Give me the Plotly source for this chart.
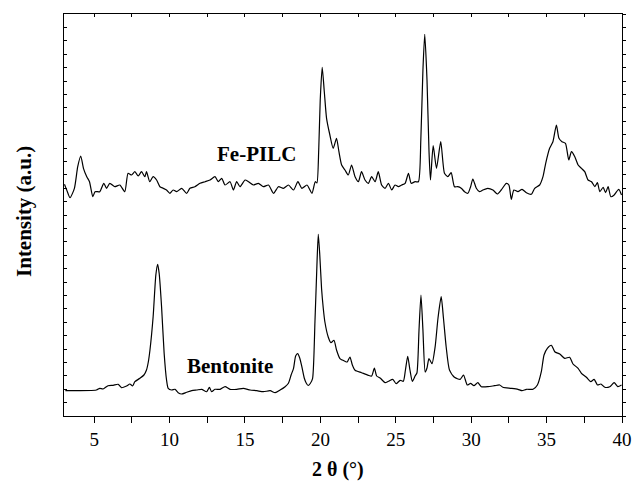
import plotly.graph_objects as go

# ---- Data (2θ in degrees, intensity in a.u.) ----
fe_two_theta = [3.03, 3.18, 3.40, 3.69, 3.91, 4.11, 4.29, 4.51, 4.69, 4.91, 5.06, 5.37, 5.64, 5.82, 6.04, 6.37, 6.70, 7.03,
                7.25, 7.48, 7.70, 7.92, 8.14, 8.36, 8.47, 8.69, 8.91, 9.14, 9.36, 9.58, 9.80, 10.02, 10.24, 10.47, 10.80,
                11.13, 11.35, 11.68, 12.02, 12.35, 12.68, 13.01, 13.23, 13.46, 13.68, 14.01, 14.23, 14.45, 14.67, 15.01,
                15.23, 15.56, 15.89, 16.22, 16.56, 16.89, 17.22, 17.55, 17.88, 18.22, 18.51, 18.77, 19.11, 19.44, 19.66,
                19.77, 19.89, 19.99, 20.12, 20.26, 20.41, 20.63, 20.85, 21.07, 21.23, 21.41, 21.63, 21.85, 22.07, 22.30,
                22.52, 22.73, 22.96, 23.18, 23.40, 23.63, 23.84, 24.06, 24.29, 24.51, 24.73, 24.95, 25.17, 25.39, 25.62,
                25.84, 26.02, 26.28, 26.50, 26.66, 26.80, 26.92, 27.07, 27.20, 27.30, 27.48, 27.70, 27.98, 28.23, 28.45,
                28.67, 28.89, 29.11, 29.34, 29.56, 29.78, 29.96, 30.11, 30.34, 30.55, 30.77, 31.10, 31.44, 31.73, 31.99,
                32.33, 32.50, 32.66, 32.83, 33.10, 33.37, 33.66, 33.99, 34.21, 34.54, 34.76, 34.94, 35.20, 35.42, 35.65,
                35.82, 36.02, 36.25, 36.47, 36.65, 36.87, 37.09, 37.31, 37.53, 37.75, 37.98, 38.20, 38.37, 38.53, 38.75,
                38.91, 39.08, 39.26, 39.48, 39.64, 39.79, 39.97]
fe_intensity = [231.7, 226, 218.3, 227.7, 249.3, 260, 247.7, 239.3, 234.3, 219.3, 224.3, 224.3, 232.7, 227.7, 232.7, 229.3,
                231, 224.3, 242.7, 241, 244.3, 240, 244.3, 239.3, 244.3, 234.3, 239.3, 236, 229.3, 227.7, 226, 222.7, 226,
                224.3, 227.7, 222.7, 227.7, 229.3, 232.7, 234.3, 236, 239.3, 234.3, 237.7, 231, 234.3, 226, 234.3, 229.3,
                236, 234.3, 231, 232.7, 229.3, 231, 222.7, 229.3, 227.7, 231, 226, 234.3, 227.7, 231, 222.7, 234.3, 233,
                266, 316, 348.7, 324.3, 297.7, 281, 267.7, 277.7, 264.3, 251, 246, 241, 251, 239.3, 234.3, 244.3, 236,
                232.7, 239.3, 234.3, 244.3, 231, 227.7, 232.7, 226, 231, 229.3, 231, 232.7, 242.7, 232.7, 234.3, 234.3,
                276, 346, 381.7, 336, 266, 236, 270.3, 247.7, 274.3, 242.7, 239.3, 243.3, 229.3, 229.3, 227.7, 224.3,
                222.7, 229.3, 237, 227.7, 224.3, 226, 227.7, 226, 222, 226, 232.7, 231, 216.7, 226, 224.3, 226.7, 223.3,
                221.7, 227.7, 231, 239.3, 252.7, 267.7, 274.3, 291, 277.7, 274.3, 272.7, 256, 264.3, 259.3, 251, 247.7,
                244.3, 236, 234.3, 229.3, 233.3, 224.3, 228.7, 223.3, 229.3, 219.3, 221, 224.3, 226.7, 221]

bent_two_theta = [3.09, 5.15, 5.37, 5.59, 5.92, 6.26, 6.59, 6.81, 7.15, 7.37, 7.55, 7.70, 8.03, 8.30, 8.47, 8.59, 8.70,
                  8.91, 9.09, 9.21, 9.31, 9.47, 9.64, 9.80, 9.91, 10.14, 10.36, 10.57, 10.80, 11.13, 11.47, 11.80, 12.13,
                  12.46, 12.64, 12.79, 13.01, 13.35, 13.68, 14.01, 14.46, 14.89, 15.34, 15.78, 16.22, 16.67, 17.00,
                  17.33, 17.66, 17.88, 18.06, 18.22, 18.36, 18.49, 18.63, 18.77, 18.93, 19.06, 19.19, 19.33, 19.48,
                  19.64, 19.76, 19.86, 19.96, 20.08, 20.19, 20.30, 20.52, 20.70, 20.90, 21.07, 21.30, 21.63, 21.78,
                  21.96, 22.12, 22.30, 22.73, 23.18, 23.40, 23.58, 23.73, 23.96, 24.29, 24.51, 24.80, 25.02, 25.29,
                  25.50, 25.64, 25.79, 25.94, 26.10, 26.28, 26.40, 26.54, 26.67, 26.80, 26.95, 27.07, 27.20, 27.40,
                  27.61, 27.80, 28.01, 28.16, 28.34, 28.56, 28.89, 29.27, 29.49, 29.74, 29.96, 30.18, 30.44, 30.67,
                  31.11, 31.55, 31.89, 32.10, 32.66, 33.10, 33.37, 33.66, 34.10, 34.39, 34.65, 34.83, 35.05, 35.32,
                  35.54, 35.87, 36.20, 36.53, 36.75, 37.09, 37.31, 37.64, 37.93, 38.15, 38.38, 38.60, 38.86, 39.19,
                  39.48, 39.72, 39.97]
bent_intensity = [25.3, 26, 27.7, 27, 30.3, 30.7, 31.7, 28.3, 30, 32, 30, 34.3, 37.7, 41, 46, 54, 66, 99.3, 141, 151.7,
                  142.7, 109.3, 62.7, 36, 27.7, 26, 26.7, 23.3, 22, 23.7, 25.3, 26, 26.7, 24.3, 28.7, 24.3, 26.7, 26.7,
                  29.3, 26.7, 26.7, 27.7, 26, 25.3, 24.3, 25.3, 23.3, 26, 29.3, 32.7, 41, 47.7, 60, 62.3, 58, 49.3, 38,
                  33, 30.5, 32.5, 37.3, 94, 146, 181.7, 161, 127.3, 108, 94, 79, 73.3, 75.7, 66, 57.3, 54.7, 54, 59,
                  51, 45.7, 43.3, 40.7, 40, 48, 40, 38, 33.3, 34.7, 36.7, 32.3, 35.7, 34.7, 46, 59.7, 46, 34.7, 40,
                  43, 86, 121, 86, 44, 48, 57.5, 52.3, 69.3, 98, 119.3, 98, 69.3, 46, 38.7, 36.7, 41, 31, 32.7, 30.3,
                  33.3, 29.3, 29.3, 30.3, 31, 28.7, 27.7, 26.7, 25.3, 26.7, 26.7, 31, 44.3, 61, 67.7, 70.7, 64.3, 62,
                  57.7, 58.7, 52, 47.7, 42.7, 38.7, 34.3, 36.7, 31, 32, 28.7, 29.3, 33.3, 29.3, 31]

x_tick_values = [5, 10, 15, 20, 25, 30, 35, 40]
x_tick_labels = ["5", "10", "15", "20", "25", "30", "35", "40"]
sample_labels = ["Fe-PILC", "Bentonite"]

FONT = "Liberation Serif"
X_RANGE = [3, 40]
Y_RANGE = [0, 402]

fig = go.Figure()
fig.add_trace(go.Scatter(x=fe_two_theta, y=fe_intensity, mode="lines",
                         line=dict(color="black", width=1.2, shape="spline", smoothing=0.6),
                         name=sample_labels[0], showlegend=False))
fig.add_trace(go.Scatter(x=bent_two_theta, y=bent_intensity, mode="lines",
                         line=dict(color="black", width=1.2, shape="spline", smoothing=0.6),
                         name=sample_labels[1], showlegend=False))
# invisible trace to activate the mirrored (top/right) axes
fig.add_trace(go.Scatter(x=[X_RANGE[0]], y=[Y_RANGE[0]], xaxis="x2", yaxis="y2", mode="markers",
                         marker=dict(opacity=0), showlegend=False, hoverinfo="skip"))

fig.update_layout(
    width=634, height=481,
    margin=dict(l=64, r=12, t=14, b=65, autoexpand=False),
    paper_bgcolor="white", plot_bgcolor="white",
    font=dict(family=FONT, color="black", size=18),
    xaxis=dict(range=X_RANGE, tickvals=x_tick_values, ticktext=x_tick_labels,
               ticks="outside", ticklen=6, tickwidth=1, tickcolor="black",
               minor=dict(dtick=2.5, tick0=0, ticks="outside", ticklen=6, tickwidth=1, tickcolor="black"),
               showline=True, linecolor="black", linewidth=1.2, mirror=True, automargin=False,
               showgrid=False, zeroline=False, tickfont=dict(size=19, family=FONT)),
    yaxis=dict(range=Y_RANGE, tick0=0, dtick=13.4, ticks="inside", ticklen=3, tickwidth=1, tickcolor="black",
               showticklabels=False, showline=True, linecolor="black", linewidth=1.2, mirror=True,
               automargin=False, showgrid=False, zeroline=False),
    xaxis2=dict(range=X_RANGE, overlaying="x", side="top", tick0=0, dtick=2.5, ticks="inside", ticklen=3,
                tickcolor="black", showticklabels=False, showgrid=False, zeroline=False, showline=False,
                automargin=False),
    yaxis2=dict(range=Y_RANGE, overlaying="y", side="right", tick0=0, dtick=13.4, ticks="outside", ticklen=3,
                tickcolor="black", showticklabels=False, showgrid=False, zeroline=False, showline=False,
                automargin=False),
    annotations=[
        dict(x=15.74, y=262, xref="x", yref="y", text="<b>Fe-PILC</b>", showarrow=False,
             xanchor="center", yanchor="middle", font=dict(size=21, family=FONT)),
        dict(x=13.98, y=50.5, xref="x", yref="y", text="<b>Bentonite</b>", showarrow=False,
             xanchor="center", yanchor="middle", font=dict(size=21, family=FONT)),
        dict(x=0.491, y=-0.134, xref="paper", yref="paper", text="<b>2 θ (°)</b>", showarrow=False,
             xanchor="center", yanchor="middle", font=dict(size=20, family=FONT)),
        dict(x=-0.0717, y=0.51, xref="paper", yref="paper", text="<b>Intensity (a.u.)</b>",
             xanchor="center", yanchor="middle", textangle=-90, showarrow=False, font=dict(size=21, family=FONT)),
    ],
)

fig.write_html("out.html")
